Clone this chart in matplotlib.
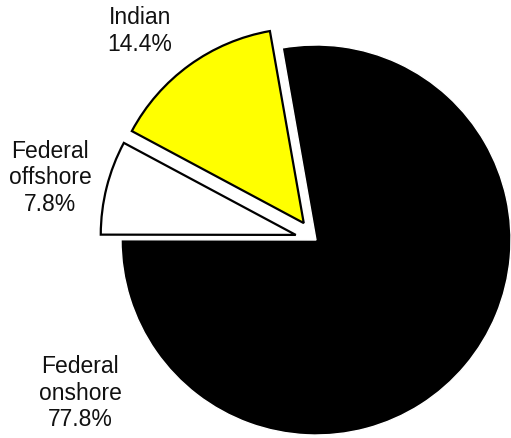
import matplotlib
matplotlib.use("Agg")
import matplotlib.pyplot as plt

labels = ["Federal\nonshore", "Federal\noffshore", "Indian"]
shares = [77.8, 7.8, 14.4]
colors = ["#000000", "#ffffff", "#ffff00"]
explode = [0.0, 0.107, 0.107]

plt.rcParams['font.family'] = ['Liberation Sans', 'DejaVu Sans']

W, H, dpi = 511, 438, 100
fig = plt.figure(figsize=(W / dpi, H / dpi), dpi=dpi)
ax = fig.add_axes([0, 0, 1, 1])

cx, cy, r = 316, 240, 195
wedges, _ = ax.pie(shares, colors=colors, explode=explode, startangle=100,
                   counterclock=False, radius=1,
                   wedgeprops=dict(edgecolor="black", linewidth=1.6))
wedges[0].set_edgecolor("white")
wedges[0].set_linewidth(1.0)

ax.set_xlim(-cx / r, (W - cx) / r)
ax.set_ylim(-(H - cy) / r, cy / r)
ax.set_aspect('equal')
ax.axis('off')

def px(x, y):
    return (x - cx) / r, (cy - y) / r

label_pos = [(80, 393), (50, 178), (140, 31)]
for lab, val, (x, y) in zip(labels, shares, label_pos):
    dx, dy = px(x, y)
    ax.text(dx, dy, f"{lab}\n{val:.1f}%", ha='center', va='center',
            fontsize=16.5, linespacing=1.2, color='#111111')

fig.savefig("out.png", dpi=dpi)
